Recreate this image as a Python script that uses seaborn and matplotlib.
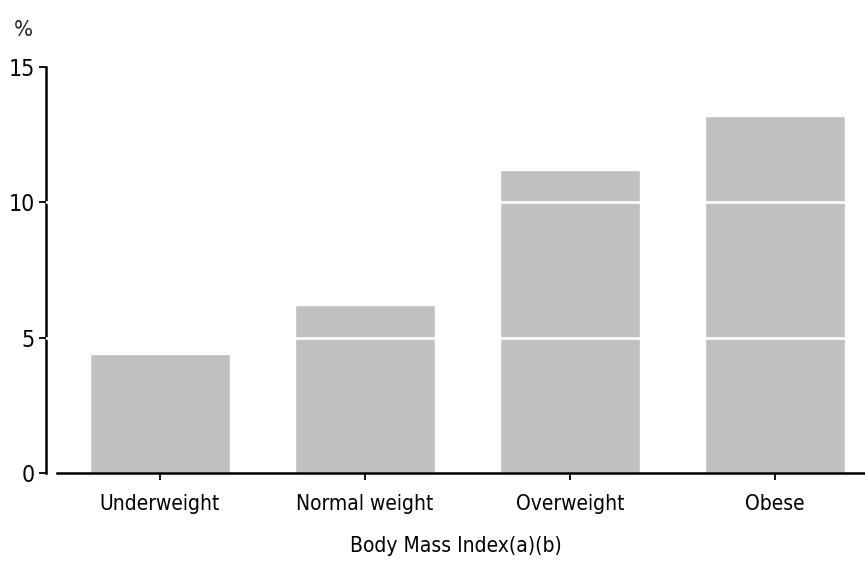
import matplotlib
matplotlib.use('Agg')
import matplotlib.pyplot as plt
import seaborn as sns
import pandas as pd

# datos
categories = ['Underweight', 'Normal weight', 'Overweight', 'Obese']
values = [4.4, 6.2, 11.2, 13.2]
y_ticks = [0, 5, 10, 15]
y_ticklabels = ['0', '5', '10', '15']
x_label = 'Body Mass Index(a)(b)'
y_unit = '%'

sns.set_style('white')
plt.rcParams['font.family'] = ['Liberation Sans Narrow', 'DejaVu Sans']
plt.rcParams['font.stretch'] = 'condensed'

data = pd.DataFrame({'bmi': categories, 'pct': values})

fig = plt.figure(figsize=(8.65, 5.66), dpi=100)
ax = fig.add_axes([0.0532, 0.1643, 0.9468, 0.7173])

sns.barplot(x='bmi', y='pct', data=data, ax=ax, color='#c0c0c0',
            width=0.68, saturation=1)

# lineas blancas de referencia sobre las barras
for t in y_ticks[1:-1]:
    ax.axhline(t, color='white', lw=2, zorder=3)

ax.set_ylim(0, 15)
ax.set_xlim(-0.556, 3.44)
ax.set_yticks(y_ticks)
ax.set_yticklabels(y_ticklabels)

for s in ['top', 'right']:
    ax.spines[s].set_visible(False)
ax.spines['left'].set_color('black')
ax.spines['bottom'].set_color('black')
ax.spines['left'].set_linewidth(1.8)
ax.spines['bottom'].set_linewidth(1.8)
ax.spines['bottom'].set_bounds(-0.5, 3.44)

ax.tick_params(axis='both', which='major', length=5, width=1.3,
               color='black', labelsize=15, labelcolor='black',
               bottom=True, left=True)
ax.tick_params(axis='y', pad=3, labelsize=16.5)
ax.tick_params(axis='x', pad=10)

ax.set_xlabel(x_label, fontsize=15, labelpad=16, color='black')
ax.set_ylabel('')
fig.text(14 / 865, 1 - 40 / 566, y_unit, fontsize=16, ha='left', va='bottom')

fig.savefig('out.png', dpi=100)
